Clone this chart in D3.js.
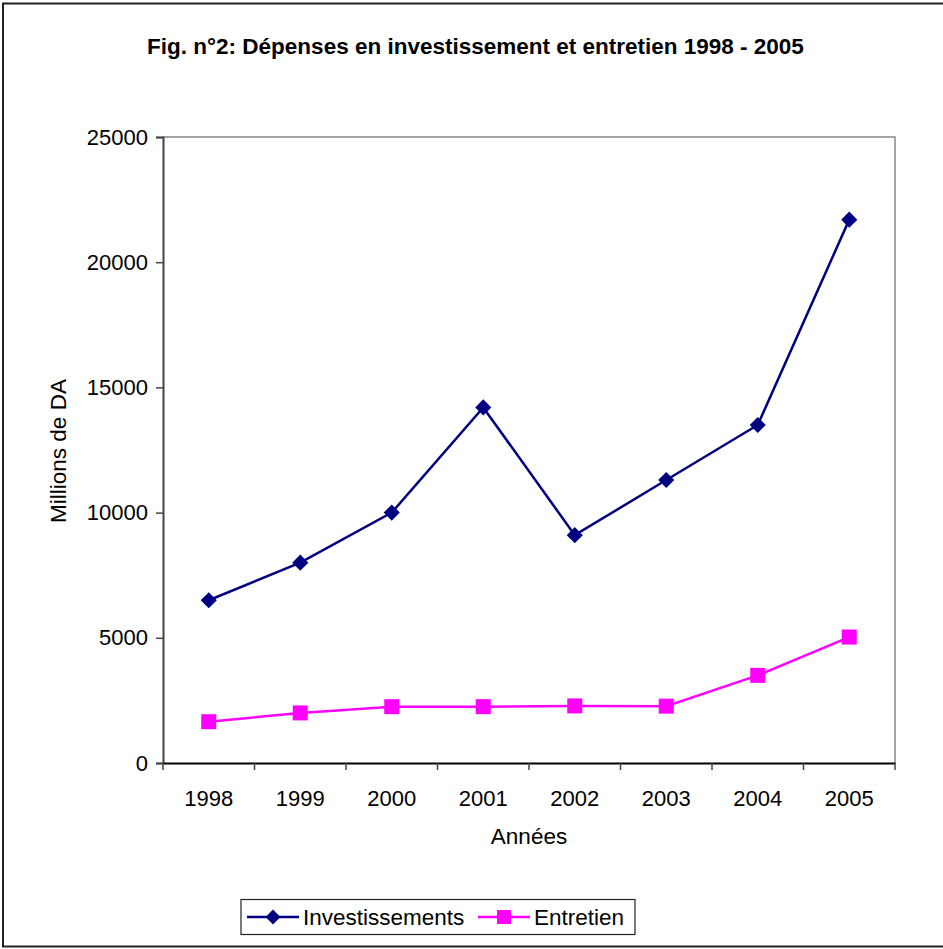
<!DOCTYPE html>
<html><head><meta charset="utf-8">
<script src="https://cdn.jsdelivr.net/npm/d3@7"></script>
<style>body{margin:0;background:#fff}svg{display:block}text{font-family:Arial,"Liberation Sans",sans-serif}</style>
</head><body>
<script>
const years = ["1998","1999","2000","2001","2002","2003","2004","2005"];
const investissements = [6500, 8000, 10000, 14200, 9100, 11300, 13500, 21700];
const entretien = [1650, 2000, 2250, 2250, 2280, 2270, 3500, 5030];
const yTicks = [0, 5000, 10000, 15000, 20000, 25000];
const seriesNames = ["Investissements", "Entretien"];
const title = "Fig. n°2: Dépenses en investissement et entretien 1998 - 2005";

const W = 943, H = 949;
const FONT = "Arial, 'Liberation Sans', sans-serif";
const svg = d3.select("body").append("svg").attr("width", W).attr("height", H);
svg.append("rect").attr("x", 3).attr("y", 3.5).attr("width", W + 5).attr("height", 943)
  .attr("fill", "#fff").attr("stroke", "#222").attr("stroke-width", 2);

const L = 163, R = 895, T = 137, B = 763;
const x = d3.scaleBand().domain(years).range([L, R]);
const y = d3.scaleLinear().domain([0, 25000]).range([B, T]);

svg.append("text").attr("x", 475.5).attr("y", 54).attr("text-anchor", "middle")
  .attr("font-size", 22.5).attr("font-weight", "bold").text(title);

// plot area border (top/right)
svg.append("path").attr("d", `M${L},${T}H${R}V${B}`).attr("fill", "none").attr("stroke", "#888").attr("stroke-width", 1.5);

// y axis
const yAxis = svg.append("g").attr("transform", `translate(${L},0)`)
  .call(d3.axisLeft(y).tickValues(yTicks).tickSize(7).tickPadding(8).tickFormat(d3.format("d")));
yAxis.attr("font-size", null).attr("font-family", null);
yAxis.select(".domain").attr("stroke", "#444").attr("stroke-width", 2);
yAxis.selectAll(".tick line").attr("stroke", "#444").attr("stroke-width", 1.5);
yAxis.selectAll("text").attr("font-size", 22).attr("fill", "#000").attr("font-family", FONT);

// x axis
const xAxis = svg.append("g").attr("transform", `translate(0,${B})`)
  .call(d3.axisBottom(x).tickSize(0).tickPadding(27));
xAxis.attr("font-size", null).attr("font-family", null);
xAxis.select(".domain").attr("stroke", "#000").attr("stroke-width", 2);
xAxis.selectAll("text").attr("font-size", 22).attr("fill", "#000").attr("font-family", FONT);
const bounds = years.map(d => x(d)).concat([R]);
svg.append("g").selectAll("line").data(bounds).join("line")
  .attr("x1", d => d).attr("x2", d => d).attr("y1", B).attr("y2", B + 7)
  .attr("stroke", "#444").attr("stroke-width", 1.5);

svg.append("text").attr("x", 529).attr("y", 844).attr("text-anchor", "middle")
  .attr("font-size", 22.5).text("Années");
svg.append("text").attr("transform", `translate(66,${(T + B) / 2 + 1}) rotate(-90)`).attr("text-anchor", "middle")
  .attr("font-size", 22.5).text("Millions de DA");

const cx = d => x(d) + x.bandwidth() / 2;
const line = d3.line().x((d, i) => cx(years[i])).y(d => y(d));

svg.append("path").datum(investissements).attr("d", line).attr("fill", "none").attr("stroke", "#000080").attr("stroke-width", 2.5);
svg.append("path").datum(entretien).attr("d", line).attr("fill", "none").attr("stroke", "#ff00ff").attr("stroke-width", 2.5);

svg.append("g").selectAll("path").data(investissements).join("path")
  .attr("transform", (d, i) => `translate(${cx(years[i])},${y(d)}) rotate(45)`)
  .attr("d", d3.symbol().type(d3.symbolSquare).size(130)).attr("fill", "#000080");
svg.append("g").selectAll("rect").data(entretien).join("rect")
  .attr("x", (d, i) => cx(years[i]) - 7.5).attr("y", d => y(d) - 7.5)
  .attr("width", 15).attr("height", 15).attr("fill", "#ff00ff");

// legend
const lg = svg.append("g");
lg.append("rect").attr("x", 241).attr("y", 899.5).attr("width", 394).attr("height", 35)
  .attr("fill", "#fff").attr("stroke", "#222").attr("stroke-width", 1.2);
const items = [
  {name: seriesNames[0], color: "#000080", x0: 247, tx: 303, shape: "diamond"},
  {name: seriesNames[1], color: "#ff00ff", x0: 478, tx: 534, shape: "square"}
];
items.forEach(it => {
  lg.append("line").attr("x1", it.x0).attr("x2", it.x0 + 52).attr("y1", 917).attr("y2", 917)
    .attr("stroke", it.color).attr("stroke-width", 2.5);
  if (it.shape === "diamond") {
    lg.append("path").attr("transform", `translate(${it.x0 + 26},917) rotate(45)`)
      .attr("d", d3.symbol().type(d3.symbolSquare).size(110)).attr("fill", it.color);
  } else {
    lg.append("rect").attr("x", it.x0 + 19).attr("y", 910).attr("width", 14).attr("height", 14).attr("fill", it.color);
  }
  lg.append("text").attr("x", it.tx).attr("y", 925).attr("font-size", 22.5).text(it.name);
});
</script>
</body></html>
